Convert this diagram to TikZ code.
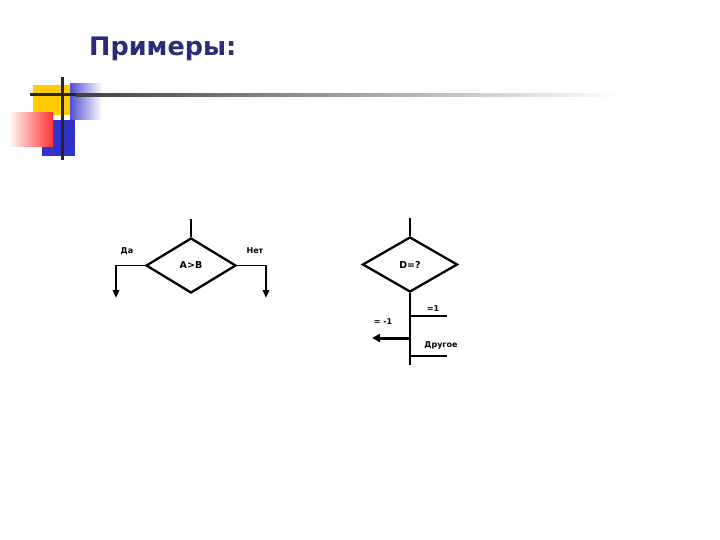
\documentclass[tikz,border=0pt]{standalone}
\usepackage{fontspec}
\setmainfont{DejaVu Sans}
\usetikzlibrary{shapes.geometric,arrows.meta}
\definecolor{titleblue}{HTML}{2B2B7A}
\definecolor{decoyellow}{HTML}{FFCC00}
\definecolor{decoblue}{HTML}{3333CC}
\definecolor{decored}{HTML}{FF3333}
\tikzset{
  dec/.style={diamond, draw, line width=2.3pt, inner sep=0pt, font=\fontsize{9.5}{11}\selectfont\bfseries},
  conn/.style={line width=1.8pt},
  arr/.style={line width=1.8pt, -{Triangle[length=8pt,width=6.5pt]}},
  thickarr/.style={line width=3pt, -{Triangle[length=8pt,width=8pt]}},
  lbl/.style={inner sep=0pt, font=\fontsize{8}{9}\selectfont\bfseries}
}
\begin{document}
\begin{tikzpicture}[x=1pt,y=-1pt]
\useasboundingbox (0,0) rectangle (720,540);
% decoration
\fill[decoyellow] (33,85) rectangle (70,115);
\shade[left color=decoblue!85, right color=white] (70,84) rectangle (102,120);
\fill[decoblue] (42,120) rectangle (75,156);
\shade[left color=white, right color=decored] (8,113) rectangle (53,147);
\fill[black!85] (30,93.5) rectangle (76,96.5);
\shade[left color=black!75, right color=white] (76,93.5) rectangle (620,96.5);
\fill[black!85] (60.5,77) rectangle (63.5,160);
% title
\node[anchor=west, inner sep=0pt, text=titleblue, font=\fontsize{25.5}{30}\selectfont\bfseries] (title) at (89,49) {Примеры:};
% first decision
\node[dec, minimum width=90pt, minimum height=55pt] (d1) at (191,265.5) {A>B};
\coordinate (d1in) at (191,219);
\coordinate (yesc) at (116,265.5);
\coordinate (yese) at (116,298);
\coordinate (noc) at (266,265.5);
\coordinate (noe) at (266,298);
\draw[conn] (d1in) -- (d1.north);
\draw[arr] (d1.west) -- (yesc) -- (yese);
\draw[arr] (d1.east) -- (noc) -- (noe);
\node[lbl] (yes) at (127,251) {Да};
\node[lbl] (no) at (255,251) {Нет};
% second decision
\node[dec, minimum width=95pt, minimum height=55pt] (d2) at (410,264.5) {D=?};
\coordinate (d2in) at (410,218);
\coordinate (d2end) at (410,365);
\coordinate (b1) at (410,316);
\coordinate (b1e) at (447,316);
\coordinate (b2) at (410,338);
\coordinate (b2e) at (372,338);
\coordinate (b3) at (410,356);
\coordinate (b3e) at (447,356);
\draw[conn] (d2in) -- (d2.north);
\draw[conn] (d2.south) -- (d2end);
\draw[conn] (b1) -- (b1e);
\draw[thickarr] (b2) -- (b2e);
\draw[conn, line width=1.2pt] (b3e) -- (b3);
\node[lbl] (l1) at (433,309) {=1};
\node[lbl] (l2) at (383,322) {= -1};
\node[lbl] (l3) at (441,345) {Другое};
\end{tikzpicture}
\end{document}
